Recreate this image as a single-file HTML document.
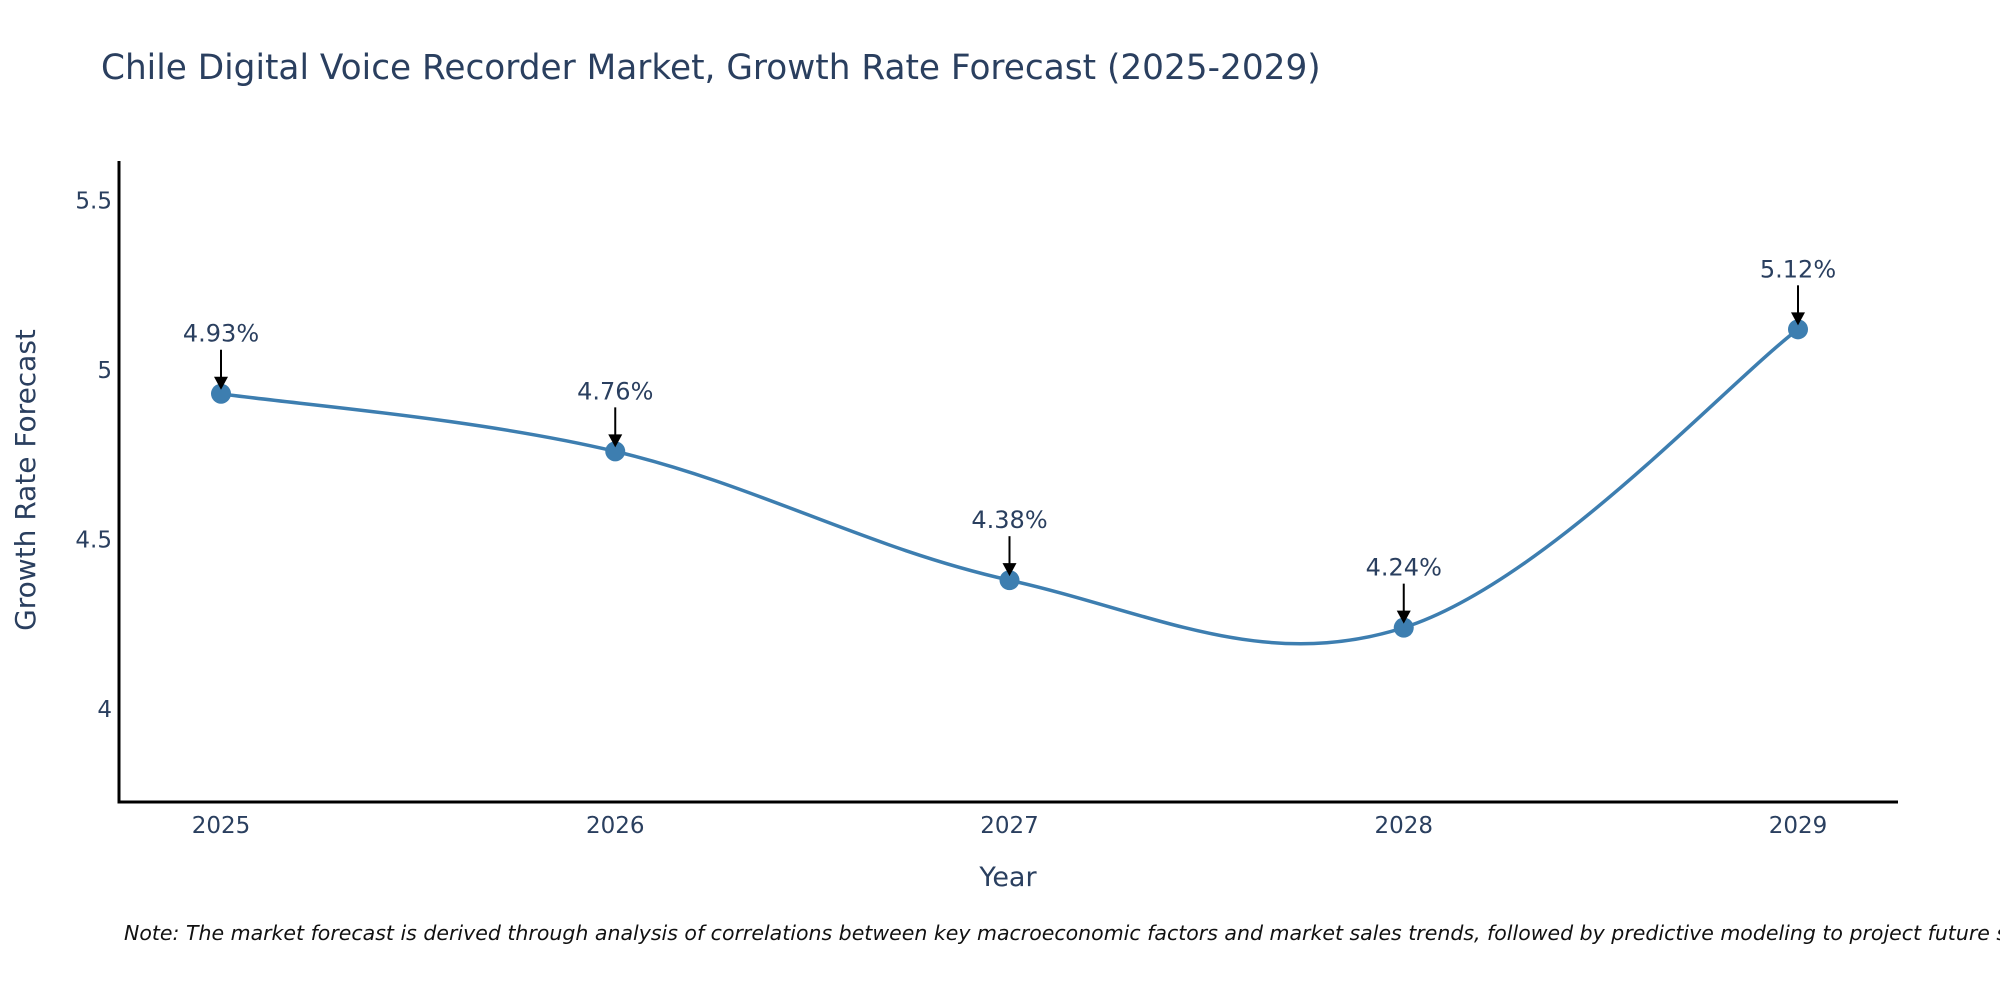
<!DOCTYPE html>
<html><head><meta charset="utf-8"><style>
html,body{margin:0;padding:0;background:#fff;}
svg{display:block;font-family:"DejaVu Sans","Liberation Sans",sans-serif;}
</style></head><body>
<svg id="chart" width="2000" height="1000" viewBox="0 0 2000 1000">
<text x="101" y="79" font-size="34.3" fill="#2a3f5f">Chile Digital Voice Recorder Market, Growth Rate Forecast (2025-2029)</text>
<g id="yticks"></g>
<g id="xticks"></g>
<line x1="119" y1="161" x2="119" y2="802" stroke="#000" stroke-width="3"/>
<line x1="117.5" y1="802" x2="1898" y2="802" stroke="#000" stroke-width="3"/>
<path id="curve" fill="none" stroke="#3d7eb0" stroke-width="3.5"/>
<g id="points"></g>
<g id="annos"></g>
<text x="1008" y="886" font-size="27" fill="#2a3f5f" text-anchor="middle">Year</text>
<text transform="translate(35,480) rotate(-90)" font-size="28" fill="#2a3f5f" text-anchor="middle">Growth Rate Forecast</text>
<text x="124" y="940" font-size="20.5" font-style="italic" fill="#111">Note: The market forecast is derived through analysis of correlations between key macroeconomic factors and market sales trends, followed by predictive modeling to project future sales.</text>
</svg>
<script>
const years = [2025, 2026, 2027, 2028, 2029];
const values = [4.93, 4.76, 4.38, 4.24, 5.12];
const labels = ["4.93%", "4.76%", "4.38%", "4.24%", "5.12%"];
const yTickValues = [4, 4.5, 5, 5.5];
const yTickLabels = ["4", "4.5", "5", "5.5"];

const NS = "http://www.w3.org/2000/svg";
function xs(v){ return 221 + (v - 2025) * 394.25; }
function ys(v){ return 370 - (v - 5) * 339; }
function mk(tag, attrs, parent){
  const el = document.createElementNS(NS, tag);
  for (const k in attrs) el.setAttribute(k, attrs[k]);
  parent.appendChild(el);
  return el;
}
const yt = document.getElementById('yticks');
yTickValues.forEach((v,i)=>{
  const t = mk('text', {x:112, y:ys(v)+8, 'font-size':23, fill:'#2a3f5f', 'text-anchor':'end'}, yt);
  
  
  t.textContent = yTickLabels[i];
});
const xt = document.getElementById('xticks');
years.forEach(y=>{
  const t = mk('text', {x:xs(y), y:833, 'font-size':23, fill:'#2a3f5f', 'text-anchor':'middle'}, xt);
  
  
  t.textContent = String(y);
});
const P = years.map((y,i)=>[xs(y), ys(values[i])]);
let d = 'M' + P[0][0] + ',' + P[0][1];
const k = 0.18;
for (let i=0;i<P.length-1;i++){
  const p0 = P[Math.max(0,i-1)], p1 = P[i], p2 = P[i+1], p3 = P[Math.min(P.length-1,i+2)];
  const c1 = [p1[0] + (p2[0]-p0[0])*k, p1[1] + (p2[1]-p0[1])*k];
  const c2 = [p2[0] - (p3[0]-p1[0])*k, p2[1] - (p3[1]-p1[1])*k];
  d += ' C' + c1[0] + ',' + c1[1] + ' ' + c2[0] + ',' + c2[1] + ' ' + p2[0] + ',' + p2[1];
}
document.getElementById('curve').setAttribute('d', d);
const pg = document.getElementById('points');
const ag = document.getElementById('annos');
P.forEach((p,i)=>{
  const c = mk('circle', {cx:p[0], cy:p[1], r:10, fill:'#3d7eb0'}, pg);
  
  
  const l = mk('line', {x1:p[0], y1:p[1]-44, x2:p[0], y2:p[1]-16, stroke:'#000', 'stroke-width':2}, ag);
  
  
  const h = mk('path', {d:'M'+(p[0]-7)+','+(p[1]-17)+' L'+(p[0]+7)+','+(p[1]-17)+' L'+p[0]+','+(p[1]-4)+' Z', fill:'#000'}, ag);
  
  
  const t = mk('text', {x:p[0], y:p[1]-52, 'font-size':24, fill:'#2a3f5f', 'text-anchor':'middle'}, ag);
  
  
  t.textContent = labels[i];
});
</script>
</body></html>
